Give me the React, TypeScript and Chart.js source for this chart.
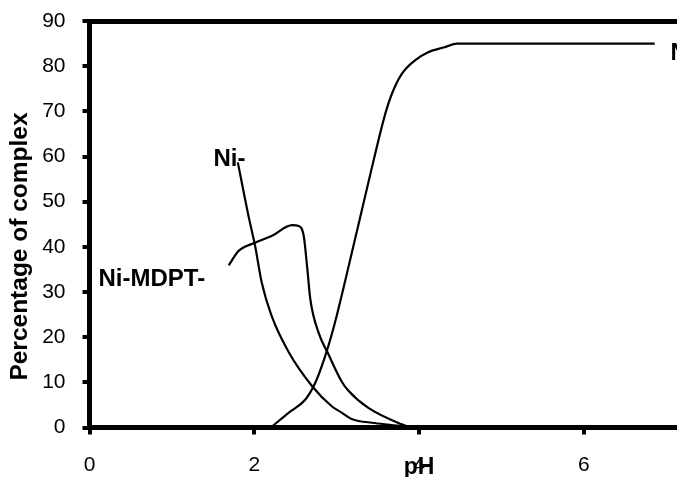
import { useEffect, useRef } from "react";
import { Chart, registerables } from "chart.js";

Chart.register(...registerables);

const FONT = "'Liberation Sans', Arial, Helvetica, sans-serif";

// Curve "Ni-" (free Ni species)
const phNi = [1.8, 1.93, 2.01, 2.09, 2.21, 2.42, 2.7, 2.94, 3.06, 3.18, 3.46, 3.79, 3.9];
const pctNi = [58.7, 46.8, 40.2, 32.1, 24.7, 16.6, 9.2, 4.7, 3.3, 1.9, 1.0, 0.3, 0];

// Curve "Ni-MDPT-"
const phNiMdpt = [1.69, 1.81, 2.01, 2.21, 2.46, 2.54, 2.6, 2.64, 2.68, 2.78, 2.9, 3.06, 3.14, 3.38, 3.79, 3.9];
const pctNiMdpt = [35.9, 39.1, 40.9, 42.4, 44.8, 44.6, 42.4, 35.8, 28.4, 21.0, 16.2, 10.2, 8.2, 4.4, 0.7, 0];

// Curve "N..." (rising species)
const phNiMdpt2 = [2.2, 2.42, 2.62, 2.74, 2.86, 2.98, 3.18, 3.38, 3.59, 3.67, 3.79, 3.95, 4.11, 4.31, 4.46, 6.86];
const pctNiMdpt2 = [0, 3.3, 6.2, 9.9, 15.8, 23.3, 38.4, 53.9, 69.5, 73.9, 78.3, 81.3, 83.1, 84.2, 85.0, 85.0];

// Curve labels (text, and anchor in data units)
const curveLabels = ["Ni-", "Ni-MDPT-", "N"];
const labelPh = [1.505, 0.109, 7.05];
const labelPct = [59.3, 32.8, 82.8];

const xTitle = "pH";
const yTitle = "Percentage of complex";

function toPoints(xs: number[], ys: number[]) {
  return xs.map((x, i) => ({ x, y: ys[i] }));
}

const textPlugin = {
  id: "curveTexts",
  afterDatasetsDraw(chart: any) {
    const { ctx, chartArea } = chart;
    const xs = chart.scales.x;
    const ys = chart.scales.y;
    ctx.save();
    ctx.fillStyle = "#000";
    ctx.font = `bold 24px ${FONT}`;
    ctx.textBaseline = "middle";
    ctx.textAlign = "left";
    curveLabels.forEach((t, i) => {
      ctx.fillText(t, xs.getPixelForValue(labelPh[i]), ys.getPixelForValue(labelPct[i]));
    });
    ctx.font = `bold 24.5px ${FONT}`;
    ctx.translate(chartArea.left - 69.5, chartArea.bottom - 181);
    ctx.rotate(-Math.PI / 2);
    ctx.textAlign = "center";
    ctx.fillText(yTitle, 0, 0);
    ctx.restore();
  },
};

function noPadding(s: any) {
  s.paddingLeft = 0;
  s.paddingRight = 0;
  s.paddingTop = 0;
  s.paddingBottom = 0;
}

export default function App() {
  const ref = useRef<HTMLCanvasElement | null>(null);

  useEffect(() => {
    if (!ref.current) return;
    const lineStyle = {
      borderColor: "#000",
      borderWidth: 2.2,
      pointRadius: 0,
      fill: false,
      cubicInterpolationMode: "monotone" as const,
      tension: 0.4,
    };
    const tickGrid = {
      drawOnChartArea: false,
      drawTicks: true,
      tickLength: 7,
      lineWidth: 4,
      color: "#000",
    };
    const border = { display: true, width: 5, color: "#000" };
    const chart = new Chart(ref.current, {
      type: "line",
      data: {
        datasets: [
          { ...lineStyle, label: curveLabels[0], data: toPoints(phNi, pctNi) },
          { ...lineStyle, label: curveLabels[1], data: toPoints(phNiMdpt, pctNiMdpt) },
          { ...lineStyle, label: curveLabels[2], data: toPoints(phNiMdpt2, pctNiMdpt2) },
        ],
      },
      options: {
        animation: false,
        responsive: false,
        devicePixelRatio: 1,
        layout: { padding: { left: 0, right: 11.3, top: 0, bottom: 0 } },
        plugins: { legend: { display: false }, tooltip: { enabled: false } },
        scales: {
          x: {
            type: "linear",
            position: "bottom",
            min: 0,
            max: 8,
            ticks: {
              stepSize: 2,
              includeBounds: false,
              maxRotation: 0,
              padding: 18,
              color: "#000",
              font: { size: 21, family: FONT },
            },
            grid: tickGrid,
            border,
            title: {
              display: true,
              text: xTitle,
              color: "#000",
              padding: 0,
              font: { size: 23, weight: "bold", family: FONT, lineHeight: 0.8 },
            },
            afterFit: (s: any) => {
              s.height = 49.5;
              noPadding(s);
            },
          },
          x2: {
            type: "linear",
            position: "top",
            min: 0,
            max: 8,
            ticks: { display: false },
            grid: { display: false },
            border,
            afterFit: (s: any) => {
              s.height = 21;
              noPadding(s);
            },
          },
          y: {
            type: "linear",
            min: 0,
            max: 90,
            ticks: {
              stepSize: 10,
              padding: 17,
              color: "#000",
              font: { size: 21, family: FONT },
            },
            grid: tickGrid,
            border,
            afterFit: (s: any) => {
              s.width = 89.5;
              noPadding(s);
            },
          },
        },
      } as any,
      plugins: [textPlugin],
    });
    return () => chart.destroy();
  }, []);

  return (
    <div
      style={{
        position: "absolute",
        left: 0,
        top: 0,
        width: 677,
        height: 477,
        overflow: "hidden",
        background: "#fff",
      }}
    >
      <canvas ref={ref} width={760} height={477} style={{ display: "block" }} />
    </div>
  );
}
